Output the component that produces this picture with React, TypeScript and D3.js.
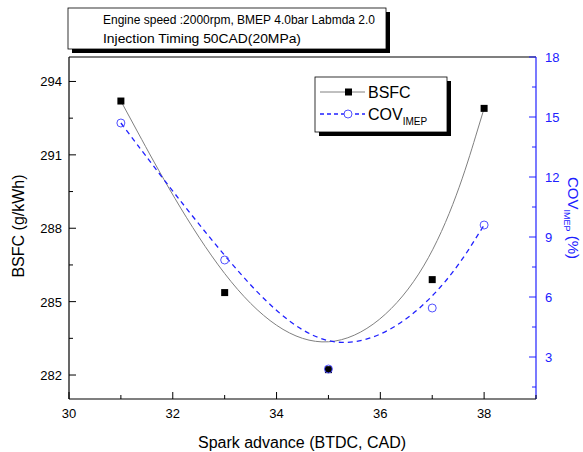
import React from "react";
import * as d3 from "d3";

const sparkAdvance = [31, 33, 35, 37, 38];
const bsfc = [293.2, 285.37, 282.22, 285.9, 292.9];
const covImep = [14.7, 7.85, 2.4, 5.45, 9.6];
const xTicks = [30, 32, 34, 36, 38];
const leftTicks = [282, 285, 288, 291, 294];
const rightTicks = [3, 6, 9, 12, 15, 18];
const titleLines = [
  "Engine speed :2000rpm, BMEP 4.0bar Labmda 2.0",
  "Injection Timing 50CAD(20MPa)",
];
const titleWidths = [272, 198];

export default function App() {
  const W = 583, H = 452;
  const L = 69, R = 536, T = 57, B = 399;
  const x = d3.scaleLinear().domain([30, 39]).range([L, R]);
  const yL = d3.scaleLinear().domain([281.02, 295]).range([B, T]);
  const yR = d3.scaleLinear().domain([0.9, 18]).range([B, T]);
  const blue = "#2020ff";

  const idx = sparkAdvance.map((_, i) => i);
  const lineB = d3.line<number>().x((i) => x(sparkAdvance[i])).y((i) => yL(bsfc[i])).curve(d3.curveBasis);
  const lineC = d3.line<number>().x((i) => x(sparkAdvance[i])).y((i) => yR(covImep[i])).curve(d3.curveBasis);

  const font = "'Liberation Sans', Arial, sans-serif";
  const xMinor = d3.range(30, 39.01, 1);
  const lMinor = d3.range(282, 295, 1.5);
  const rMinor = d3.range(1.5, 18.01, 1.5);

  return (
    <svg width={W} height={H} style={{ position: "absolute", left: 0, top: 0, background: "#fff" }} fontFamily={font}>
      <rect x={0} y={0} width={W} height={H} fill="#fff" />
      {/* title box */}
      <rect x={72} y={12} width={318} height={41} fill="#000" />
      <rect x={68} y={8} width={318} height={41} fill="#fff" stroke="#000" strokeWidth={0.8} />
      {titleLines.map((t, i) => (
        <text key={i} x={103} y={24 + i * 19} fontSize={13} fontFamily="'Liberation Sans', Arial, sans-serif"
          textLength={titleWidths[i]} lengthAdjust="spacingAndGlyphs" fill="#000">
          {t}
        </text>
      ))}

      {/* frame */}
      <line x1={L} x2={R} y1={T} y2={T} stroke="#000" strokeWidth={1.2} />
      <line x1={L} x2={R} y1={B} y2={B} stroke="#000" strokeWidth={1.2} />
      <line x1={L} x2={L} y1={T} y2={B} stroke="#000" strokeWidth={1.2} />
      <line x1={R} x2={R} y1={T} y2={B} stroke={blue} strokeWidth={1.2} />

      {/* x ticks */}
      {xMinor.map((v) => {
        const major = xTicks.includes(v);
        return <line key={"xm" + v} x1={x(v)} x2={x(v)} y1={B} y2={B - (major ? 7 : 4)} stroke="#000" />;
      })}
      {xTicks.map((v) => (
        <text key={"xt" + v} x={x(v)} y={418} textAnchor="middle" fontSize={13} fill="#000">{v}</text>
      ))}
      <text x={302} y={448} textAnchor="middle" fontSize={16} fill="#000">Spark advance (BTDC, CAD)</text>

      {/* left ticks */}
      {lMinor.map((v) => {
        const major = leftTicks.includes(v);
        return <line key={"lm" + v} x1={L} x2={L + (major ? 7 : 4)} y1={yL(v)} y2={yL(v)} stroke="#000" />;
      })}
      {leftTicks.map((v) => (
        <text key={"lt" + v} x={62} y={yL(v) + 5} textAnchor="end" fontSize={13} fill="#000">{v}</text>
      ))}
      <text transform="translate(24,226) rotate(-90)" textAnchor="middle" fontSize={16} fill="#000">BSFC (g/kWh)</text>

      {/* right ticks */}
      {rMinor.map((v) => {
        const major = rightTicks.includes(v);
        return <line key={"rm" + v} x1={R} x2={R - (major ? 7 : 4)} y1={yR(v)} y2={yR(v)} stroke={blue} />;
      })}
      {rightTicks.map((v) => (
        <text key={"rt" + v} x={545} y={yR(v) + 5} textAnchor="start" fontSize={13} fill={blue}>{v}</text>
      ))}
      <text transform="translate(568,218) rotate(90)" textAnchor="middle" fontSize={15} fill={blue}>
        COV<tspan fontSize={9} dy={4}>IMEP</tspan><tspan dy={-4}> (%)</tspan>
      </text>

      {/* curves */}
      <path d={lineB(idx) || ""} fill="none" stroke="#808080" strokeWidth={1} />
      <path d={lineC(idx) || ""} fill="none" stroke={blue} strokeWidth={1.3} strokeDasharray="5,4" />

      {/* markers */}
      {sparkAdvance.map((v, i) => (
        <rect key={"b" + i} x={x(v) - 3.5} y={yL(bsfc[i]) - 3.5} width={7} height={7} fill="#000" />
      ))}
      {sparkAdvance.map((v, i) => (
        <circle key={"c" + i} cx={x(v)} cy={yR(covImep[i])} r={4} fill="none" stroke="#5050ff" strokeWidth={1} />
      ))}

      {/* legend */}
      <rect x={319} y={81} width={132} height={55} fill="#000" />
      <rect x={315} y={77} width={132} height={55} fill="#fff" stroke="#000" strokeWidth={0.8} />
      <line x1={320} x2={365} y1={92} y2={92} stroke="#808080" />
      <rect x={345} y={88.5} width={7} height={7} fill="#000" />
      <text x={368} y={98} fontSize={16} fill="#000">BSFC</text>
      <line x1={320} x2={365} y1={114} y2={114} stroke={blue} strokeWidth={1.3} strokeDasharray="4,3" />
      <circle cx={348} cy={114} r={4} fill="#fff" stroke="#5050ff" />
      <text x={368} y={120} fontSize={16} fill="#000">
        COV<tspan fontSize={10} dy={5}>IMEP</tspan>
      </text>
    </svg>
  );
}
